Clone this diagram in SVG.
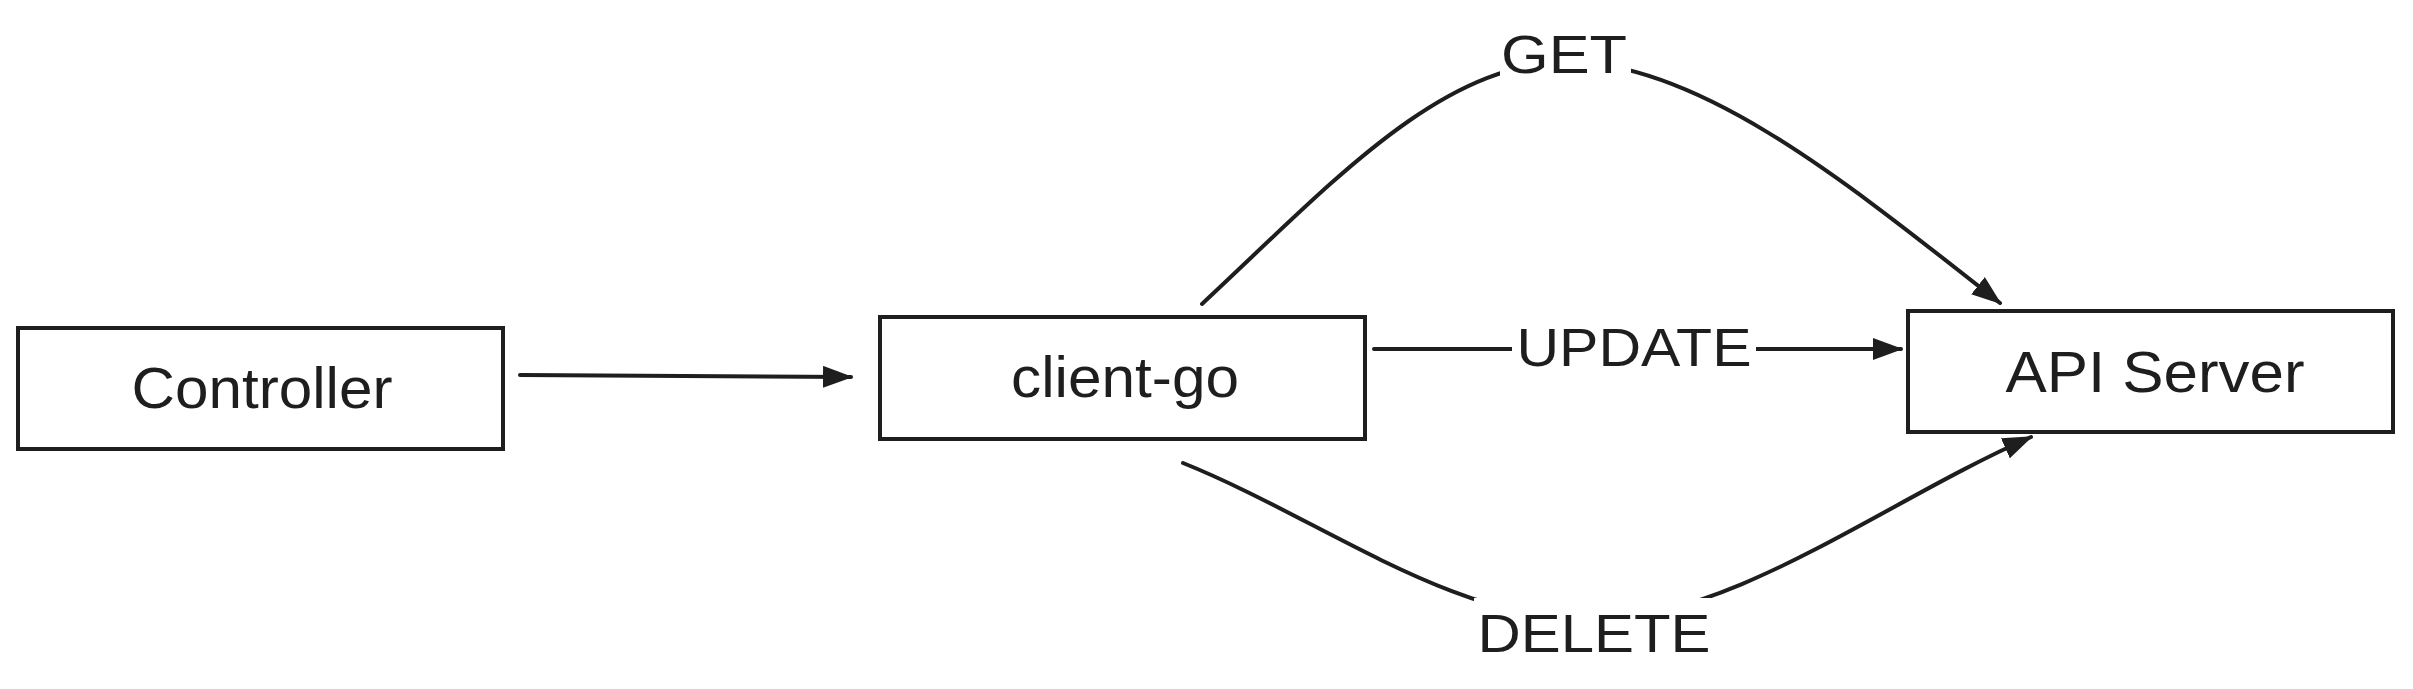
<svg xmlns="http://www.w3.org/2000/svg" width="2413" height="689" viewBox="0 0 2413 689">
<style>
.box{fill:#ffffff;stroke:#1e1e1e;stroke-width:4}
.lbl{font-family:"Liberation Sans",Arial,sans-serif;font-size:58px;fill:#1e1e1e;text-anchor:middle}
.elbl{font-family:"Liberation Sans",Arial,sans-serif;font-size:54px;fill:#1e1e1e;text-anchor:middle}
.edge{fill:none;stroke:#1e1e1e;stroke-width:4;stroke-linecap:round}
.gap{fill:#ffffff;stroke:none}
</style>
<defs>
<marker id="arr" viewBox="0 0 30 22" refX="28" refY="11" markerWidth="30" markerHeight="22" markerUnits="userSpaceOnUse" orient="auto">
<path d="M0,0 L30,11 L0,22 Z" fill="#1e1e1e"/>
</marker>
</defs>
<g id="connectors">
<path class="edge" d="M520,375 L851,377" marker-end="url(#arr)"/>
<path class="edge" d="M1374,349 L1901,349" marker-end="url(#arr)"/>
<path class="edge" d="M1202,304 C1330,185 1440,62 1568,62 C1700,62 1850,185 2000,303" marker-end="url(#arr)"/>
<path class="edge" d="M1183,463 C1320,518 1453,622 1594,620 C1735,618 1885,501 2031,437" marker-end="url(#arr)"/>
<g id="label-get"><rect class="gap" x="1500" y="22" width="131" height="66"/><text class="elbl" x="1564" y="73" textLength="126" lengthAdjust="spacingAndGlyphs">GET</text></g>
<g id="label-update"><rect class="gap" x="1512" y="312" width="244" height="66"/><text class="elbl" x="1634" y="366" textLength="235" lengthAdjust="spacingAndGlyphs">UPDATE</text></g>
<g id="label-delete"><rect class="gap" x="1474" y="598" width="240" height="66"/><text class="elbl" x="1594" y="652" textLength="233" lengthAdjust="spacingAndGlyphs">DELETE</text></g>
</g>
<g id="node-controller">
<rect class="box" x="18" y="328" width="485" height="121"/>
<text class="lbl" x="262" y="408" textLength="261" lengthAdjust="spacingAndGlyphs">Controller</text>
</g>
<g id="node-client-go">
<rect class="box" x="880" y="317" width="485" height="122"/>
<text class="lbl" x="1125" y="397" textLength="228" lengthAdjust="spacingAndGlyphs">client-go</text>
</g>
<g id="node-api-server">
<rect class="box" x="1908" y="311" width="485" height="121"/>
<text class="lbl" x="2155" y="392" textLength="299" lengthAdjust="spacingAndGlyphs">API Server</text>
</g>
</svg>
